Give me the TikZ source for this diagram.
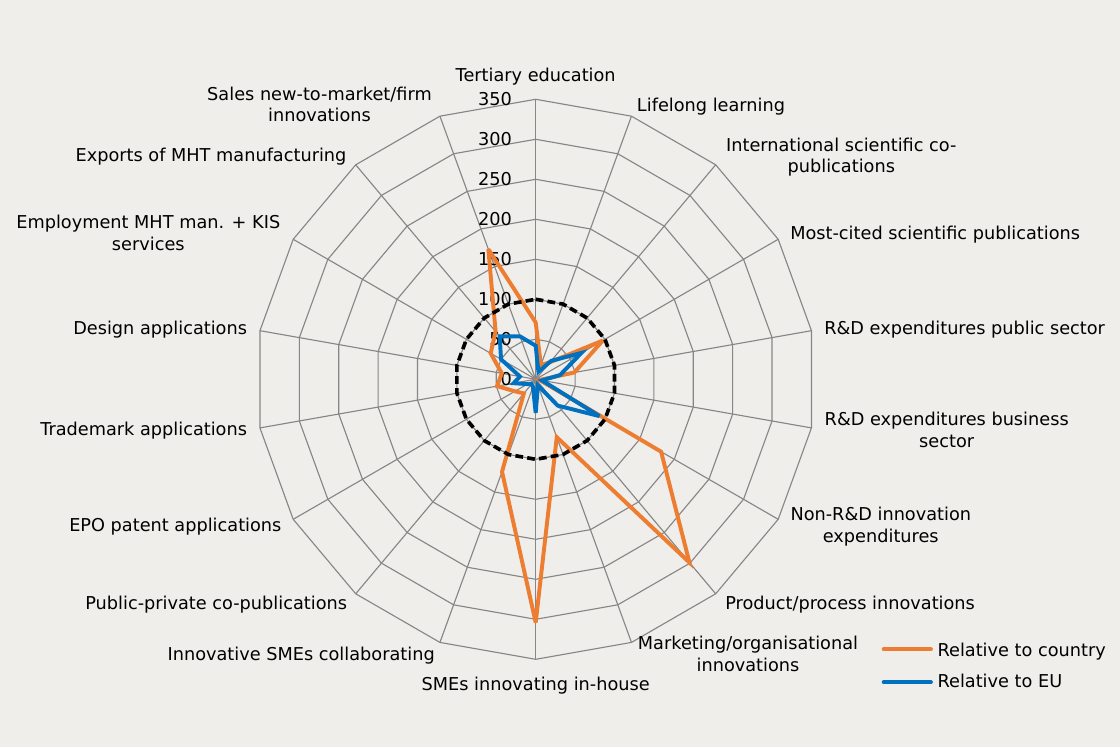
\documentclass[tikz,border=0pt]{standalone}
\usepackage{fontspec}
\setmainfont{DejaVu Sans}
\usepackage{tikz}
\definecolor{chartbg}{RGB}{240,238,235}
\definecolor{gridgray}{RGB}{134,134,134}
\definecolor{countryorange}{RGB}{237,125,49}
\definecolor{eublue}{RGB}{0,112,192}
\tikzset{
    lbl/.style={font=\fontsize{12.6}{15.3}\selectfont, inner sep=0pt, align=center},
    gridline/.style={gridgray, line width=0.8pt},
    series/.style={line width=2.8pt, miter limit=4},
}
\begin{document}
\begin{tikzpicture}[>=latex]
            \fill[chartbg] (-13.3925, -9.1925) rectangle (14.6075, 9.4825);
            \foreach \r in {1, 2, ..., 7}
            {
                \draw[gridline] (90:\r) \foreach \a in {1, 2, ..., 17}{ -- (90 - \a*20:\r)} -- cycle;
            }
            \foreach \a in {0, 1, ..., 17}
            {
                \draw[gridline] (0, 0) -- (90 - \a*20:7);
            }
            \foreach \t in {0, 50, ..., 350}
            {
                \node[lbl, anchor=east] (tick\t) at (-0.59, \t/50) {\t};
            }
            \draw[series, countryorange] (90:71/50) \foreach \v [count=\i] in {19, 28, 97, 49, 5, 181, 299, 77, 304, 123, 23, 30, 49, 43, 65, 78, 173}{ -- (90 - \i*20:\v/50)} -- cycle;
            \draw[series, eublue] (90:42/50) \foreach \v [count=\i] in {10, 30, 66, 31, 8, 92, 43, 8, 42, 10, 8, 12, 28, 20, 50, 70, 57}{ -- (90 - \i*20:\v/50)} -- cycle;
            \draw[black, line width=2.6pt, dash pattern=on 5.5pt off 3pt] (90:2) \foreach \a in {1, 2, ..., 17}{ -- (90 - \a*20:2)} -- cycle;

            \node[lbl, anchor=base] (tertiary) at (0, 7.44) {Tertiary education};
            \node[lbl, anchor=base west] (lifelong) at (2.525, 6.69) {Lifelong learning};
            \node[lbl, anchor=north] (intsci) at (7.64, 6.045) {International scientific co-\\publications};
            \node[lbl, anchor=base west] (mostcited) at (6.358, 3.483) {Most-cited scientific publications};
            \node[lbl, anchor=base west] (rdpublic) at (7.2075, 1.108) {R\&D expenditures public sector};
            \node[lbl, anchor=north] (rdbusiness) at (10.275, -0.8225) {R\&D expenditures business\\sector};
            \node[lbl, anchor=north] (nonrd) at (8.6275, -3.198) {Non-R\&D innovation\\expenditures};
            \node[lbl, anchor=base west] (prodproc) at (4.7325, -5.75) {Product/process innovations};
            \node[lbl, anchor=north] (marketing) at (5.3075, -6.4125) {Marketing/organisational\\innovations};
            \node[lbl, anchor=base] (smeinhouse) at (0, -7.78) {SMEs innovating in-house};
            \node[lbl, anchor=base east] (smecollab) at (-2.5175, -7.0175) {Innovative SMEs collaborating};
            \node[lbl, anchor=base east] (pubpriv) at (-4.71, -5.7425) {Public-private co-publications};
            \node[lbl, anchor=base east] (epo) at (-6.35, -3.7925) {EPO patent applications};
            \node[lbl, anchor=base east] (trademark) at (-7.21, -1.4175) {Trademark applications};
            \node[lbl, anchor=base east] (design) at (-7.21, 1.125) {Design applications};
            \node[lbl, anchor=north] (employment) at (-9.685, 4.1125) {Employment MHT man. + KIS\\services};
            \node[lbl, anchor=base east] (exports) at (-4.725, 5.44) {Exports of MHT manufacturing};
            \node[lbl, anchor=north] (sales) at (-5.405, 7.32) {Sales new-to-market/firm\\innovations};

            \node[lbl, anchor=base west] (relcountry) at (10.04, -6.9175) {Relative to country};
            \node[lbl, anchor=base west] (releu) at (10.04, -7.71) {Relative to EU};
            \coordinate (keycountry) at (8.7, -6.75);
            \coordinate (keyeu) at (8.7, -7.575);
            \draw[series, countryorange, line cap=round, shorten >=1.6mm] (keycountry) -- (keycountry -| relcountry.west);
            \draw[series, eublue, line cap=round, shorten >=1.6mm] (keyeu) -- (keyeu -| releu.west);
        \end{tikzpicture}
\end{document}
